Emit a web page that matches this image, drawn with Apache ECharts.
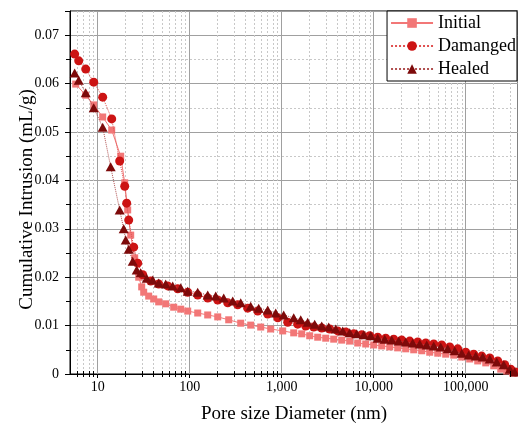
<!DOCTYPE html>
<html><head><meta charset="utf-8">
<script src="https://cdn.jsdelivr.net/npm/echarts@6/dist/echarts.min.js"></script>
<style>html,body{margin:0;padding:0;background:#fff}#c{width:518px;height:432px}</style>
</head><body><div id="c"></div>
<script>
// ---- Data ----
const seriesNames = ['Initial', 'Damanged', 'Healed'];

const initialDiameter = [5.77, 7.41, 9.05, 11.33, 14.2, 17.78, 19.66, 21.19, 22.84, 25.25, 27.91, 30.08, 31.62, 35.84, 40.62, 46.03, 54.83, 67.01, 79.87, 95.13, 122.2, 156.9, 201.6, 265.4, 358.4, 460.3, 591.2, 759.3, 1025, 1350, 1650, 2015, 2462, 3009, 3675, 4490, 5485, 6701, 8185, 10000, 12218, 14925, 18239, 22280, 27214, 33250, 40616, 49630, 60610, 74070, 90490, 110500, 135000, 165000, 201600, 240200, 279100, 324300];
const initialIntrusion = [0.0599, 0.0576, 0.0556, 0.0531, 0.0504, 0.0450, 0.0395, 0.0339, 0.0287, 0.0240, 0.0200, 0.0180, 0.0169, 0.0161, 0.0155, 0.0149, 0.0145, 0.0138, 0.0134, 0.0130, 0.0126, 0.0122, 0.0118, 0.0112, 0.0105, 0.0101, 0.0097, 0.0093, 0.0089, 0.0085, 0.0083, 0.0079, 0.0076, 0.0074, 0.0072, 0.0070, 0.0068, 0.0064, 0.0062, 0.0060, 0.0058, 0.0056, 0.0054, 0.0052, 0.0050, 0.0048, 0.0045, 0.0043, 0.0041, 0.0039, 0.0035, 0.0031, 0.0027, 0.0023, 0.0017, 0.0010, 0.0006, 0.0002];

const damagedDiameter = [5.62, 6.22, 7.41, 9.05, 11.33, 14.2, 17.34, 19.66, 20.66, 21.73, 24.62, 27.22, 30.84, 37.69, 46.03, 57.68, 74.07, 95.13, 122.2, 156.9, 201.6, 258.8, 332.4, 427.0, 548.3, 704.5, 904.8, 1162, 1492, 1824, 2227, 2722, 3325, 4062, 4963, 6063, 7406, 9049, 11053, 13503, 16502, 20160, 24625, 30083, 36750, 44900, 54840, 67010, 81850, 100000, 122200, 149300, 182400, 222800, 265400, 308400, 349600];
const damagedIntrusion = [0.0661, 0.0647, 0.0630, 0.0603, 0.0572, 0.0527, 0.0440, 0.0388, 0.0353, 0.0318, 0.0262, 0.0229, 0.0205, 0.0192, 0.0186, 0.0182, 0.0176, 0.0169, 0.0163, 0.0157, 0.0153, 0.0147, 0.0143, 0.0136, 0.0130, 0.0124, 0.0116, 0.0107, 0.0103, 0.0099, 0.0097, 0.0095, 0.0093, 0.0089, 0.0087, 0.0083, 0.0081, 0.0079, 0.0076, 0.0074, 0.0072, 0.0070, 0.0068, 0.0066, 0.0064, 0.0062, 0.0060, 0.0056, 0.0052, 0.0045, 0.0041, 0.0037, 0.0033, 0.0027, 0.0019, 0.0010, 0.0004];

const healedDiameter = [5.62, 6.22, 7.41, 9.05, 11.33, 13.84, 17.34, 19.17, 20.16, 21.73, 24.02, 26.54, 29.34, 34.09, 39.62, 46.03, 54.83, 65.34, 79.87, 95.13, 122.2, 156.9, 191.7, 234.2, 293.4, 358.4, 460.3, 562.3, 704.5, 860.6, 1051, 1350, 1609, 1917, 2284, 2722, 3243, 3864, 4603, 5485, 6536, 7787, 9278, 11053, 13173, 15696, 18700, 22280, 26540, 31623, 37674, 44900, 53500, 63730, 75930, 90490, 107800, 128500, 153000, 182400, 217300, 258800, 300900, 341000];
const healedIntrusion = [0.0622, 0.0607, 0.0581, 0.0550, 0.0510, 0.0428, 0.0339, 0.0300, 0.0277, 0.0258, 0.0233, 0.0215, 0.0209, 0.0198, 0.0194, 0.0188, 0.0186, 0.0182, 0.0178, 0.0171, 0.0169, 0.0163, 0.0161, 0.0157, 0.0151, 0.0147, 0.0140, 0.0136, 0.0132, 0.0126, 0.0122, 0.0116, 0.0112, 0.0107, 0.0103, 0.0099, 0.0097, 0.0093, 0.0089, 0.0085, 0.0083, 0.0081, 0.0079, 0.0074, 0.0072, 0.0070, 0.0068, 0.0066, 0.0064, 0.0062, 0.0060, 0.0058, 0.0056, 0.0052, 0.0048, 0.0043, 0.0039, 0.0037, 0.0035, 0.0031, 0.0025, 0.0019, 0.0010, 0.0004];

const xAxisTitle = 'Pore size Diameter (nm)';
const yAxisTitle = 'Cumulative Intrusion (mL/g)';

// ---- Chart ----
const FONT = 'Liberation Serif';
const pair = (xs, ys) => xs.map((x, i) => [x, ys[i]]);
const chart = echarts.init(document.getElementById('c'), null, {renderer: 'canvas'});

const option = {
  animation: false,
  backgroundColor: '#fff',
  grid: {left: 70, right: 0, top: 11, bottom: 58, containLabel: false, outerBoundsMode: 'none',
    show: true, borderColor: '#000', borderWidth: 1, backgroundColor: 'transparent'},
  legend: {
    data: seriesNames,
    orient: 'vertical', right: 1, top: 11,
    backgroundColor: '#fff', borderColor: '#000', borderWidth: 1,
    padding: [3, 1, 3, 3], itemGap: 5, itemWidth: 42, itemHeight: 12,
    textStyle: {fontFamily: FONT, fontSize: 18, color: '#000'}
  },
  xAxis: {
    type: 'log', logBase: 10, min: 5, max: 370000,
    name: xAxisTitle, nameLocation: 'middle', nameGap: 31, nameMoveOverlap: false,
    nameTextStyle: {fontFamily: FONT, fontSize: 19, color: '#000'},
    axisLine: {lineStyle: {color: '#000', width: 1}},
    axisTick: {show: true, inside: false, length: 4, lineStyle: {color: '#000'}},
    axisLabel: {fontFamily: FONT, fontSize: 14, color: '#000', margin: 6, showMinLabel: false, showMaxLabel: false,
      formatter: v => Math.round(v).toLocaleString('en-US')},
    splitLine: {show: true, lineStyle: {color: '#a0a0a0', width: 1}}
  },
  yAxis: {
    type: 'value', min: 0, max: 0.075, interval: 0.01,
    name: yAxisTitle, nameLocation: 'middle', nameGap: 33, nameMoveOverlap: false,
    nameTextStyle: {fontFamily: FONT, fontSize: 19, color: '#000', padding: [0, 14, 0, 0]},
    axisLine: {show: true, lineStyle: {color: '#000', width: 1}},
    axisTick: {show: true, inside: false, length: 5, lineStyle: {color: '#000'}},
    minorTick: {show: true, splitNumber: 2, length: 4, lineStyle: {color: '#000'}},
    axisLabel: {fontFamily: FONT, fontSize: 14, color: '#000', margin: 11, showMaxLabel: false},
    splitLine: {show: true, lineStyle: {color: '#a0a0a0', width: 1}},
    minorSplitLine: {show: true, lineStyle: {color: '#c8c8c8', width: 1, type: [2, 2]}}
  },
  series: [
    {name: seriesNames[0], type: 'line', data: pair(initialDiameter, initialIntrusion),
      symbol: 'rect', symbolSize: 7, showSymbol: true, color: '#f27777',
      itemStyle: {color: '#f27777'}, lineStyle: {color: '#f27777', width: 1, type: 'solid'}, z: 2},
    {name: seriesNames[1], type: 'line', data: pair(damagedDiameter, damagedIntrusion),
      symbol: 'circle', symbolSize: 9, showSymbol: true, color: '#cc1414',
      itemStyle: {color: '#cc1414'}, lineStyle: {color: '#e05050', width: 1, type: 'dotted'}, z: 3},
    {name: seriesNames[2], type: 'line', data: pair(healedDiameter, healedIntrusion),
      symbol: 'triangle', symbolSize: [10, 9], showSymbol: true, color: '#7d0a0a',
      itemStyle: {color: '#7d0a0a'}, lineStyle: {color: '#b05050', width: 1, type: 'dotted'}, z: 4}
  ]
};
chart.setOption(option);

// minor decade grid lines and ticks (2..9 x 10^n) placed through the axis scale
const minorVals = [];
for (let p = 0; p <= 5; p++) for (let k = 2; k <= 9; k++) {
  const v = k * Math.pow(10, p);
  if (v > 5 && v < 370000) minorVals.push(v);
}
const yTop = chart.convertToPixel({yAxisIndex: 0}, 0.075);
const yBot = chart.convertToPixel({yAxisIndex: 0}, 0);
const els = [];
minorVals.forEach(v => {
  const px = Math.round(chart.convertToPixel({xAxisIndex: 0}, v)) + 0.5;
  els.push({type: 'line', silent: true, z: 0, shape: {x1: px, y1: yTop, x2: px, y2: yBot},
    style: {stroke: '#c8c8c8', lineWidth: 1, lineDash: [2, 2]}});
  els.push({type: 'line', silent: true, z: 5, shape: {x1: px, y1: yBot - 3, x2: px, y2: yBot + 3},
    style: {stroke: '#000', lineWidth: 1}});
});
chart.setOption({graphic: els});
</script>
</body></html>
